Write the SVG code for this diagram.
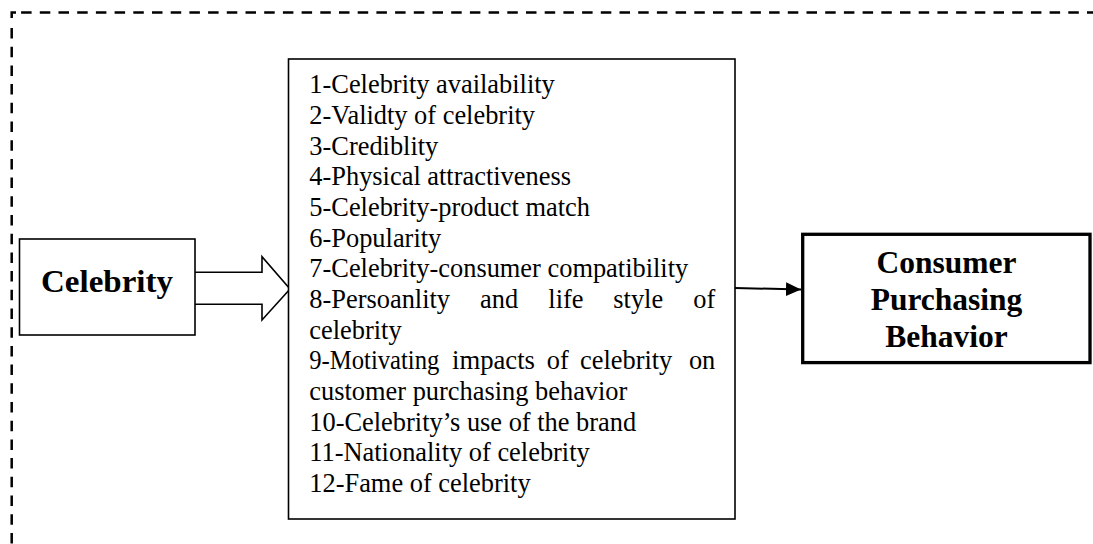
<svg xmlns="http://www.w3.org/2000/svg" width="1093" height="544" viewBox="0 0 1093 544">
<defs>
<style>
.dash{fill:none;stroke:#000;stroke-width:2.5;stroke-dasharray:10.5 8.2}
.box{fill:#fff;stroke:#000;stroke-width:1.6}
.list{font-family:"Liberation Serif","Times New Roman",serif;font-size:26.4px;fill:#000}
.end{text-anchor:end}
.bold{font-family:"Liberation Serif","Times New Roman",serif;font-weight:bold;fill:#000}
</style>
<marker id="ah" markerUnits="userSpaceOnUse" markerWidth="16" markerHeight="16" refX="15" refY="7" orient="auto">
<path d="M0,0 L15,7 L0,14 Z" fill="#000"/>
</marker>
</defs>
<rect width="1093" height="544" fill="#fff"/>
<g id="frame">
<path d="M11.7,18 V12.5 H16" fill="none" stroke="#000" stroke-width="2.5"/>
<line class="dash" x1="21.1" y1="12.5" x2="1093" y2="12.5"/>
<line class="dash" x1="11.7" y1="28" x2="11.7" y2="544"/>
</g>
<g id="connectors">
<path d="M195,272.3 H262 V256.7 L290,289 L262,320 V304.3 H195" fill="#fff" stroke="#000" stroke-width="1.6" stroke-linejoin="miter"/>
<line x1="735" y1="288" x2="801" y2="289.5" stroke="#000" stroke-width="2" marker-end="url(#ah)"/>
</g>
<g id="celebrity">
<rect class="box" x="19.5" y="239" width="175.5" height="96"/>
<text class="bold" x="107" y="291.7" font-size="32" text-anchor="middle" textLength="132" lengthAdjust="spacingAndGlyphs">Celebrity</text>
</g>
<g id="factors">
<rect class="box" x="288.5" y="59" width="446.5" height="460"/>
<text class="list" x="309.3" y="93.3">1-Celebrity availability</text>
<text class="list" x="309.3" y="124">2-Validty of celebrity</text>
<text class="list" x="309.3" y="154.6">3-Crediblity</text>
<text class="list" x="309.3" y="185.3">4-Physical attractiveness</text>
<text class="list" x="309.3" y="215.9">5-Celebrity-product match</text>
<text class="list" x="309.3" y="246.6">6-Popularity</text>
<text class="list" x="309.3" y="277.2">7-Celebrity-consumer compatibility</text>
<text class="list" y="307.9"><tspan x="309.3">8-Persoanlity</tspan><tspan x="480">and</tspan><tspan x="548.3">life</tspan><tspan x="613.3">style</tspan></text>
<text class="list end" x="715.3" y="307.9">of</text>
<text class="list" x="309.3" y="338.5">celebrity</text>
<text class="list" x="309.3" y="369.2" textLength="130" lengthAdjust="spacingAndGlyphs">9-Motivating</text>
<text class="list" x="452" y="369.2" textLength="83" lengthAdjust="spacingAndGlyphs">impacts</text>
<text class="list" x="546.7" y="369.2">of</text>
<text class="list" x="580" y="369.2">celebrity</text>
<text class="list end" x="715.3" y="369.2">on</text>
<text class="list" x="309.3" y="399.8">customer purchasing behavior</text>
<text class="list" x="309.3" y="430.5">10-Celebrity’s use of the brand</text>
<text class="list" x="309.3" y="461.1">11-Nationality of celebrity</text>
<text class="list" x="309.3" y="491.8">12-Fame of celebrity</text>
</g>
<g id="consumer">
<rect x="802.7" y="234.3" width="287.3" height="128.3" fill="#fff" stroke="#000" stroke-width="3.3"/>
<text class="bold" font-size="31.5" text-anchor="middle" x="946.5" y="273.3">Consumer</text>
<text class="bold" font-size="31.5" text-anchor="middle" x="946.5" y="310">Purchasing</text>
<text class="bold" font-size="31.5" text-anchor="middle" x="946.5" y="346.7">Behavior</text>
</g>
</svg>
